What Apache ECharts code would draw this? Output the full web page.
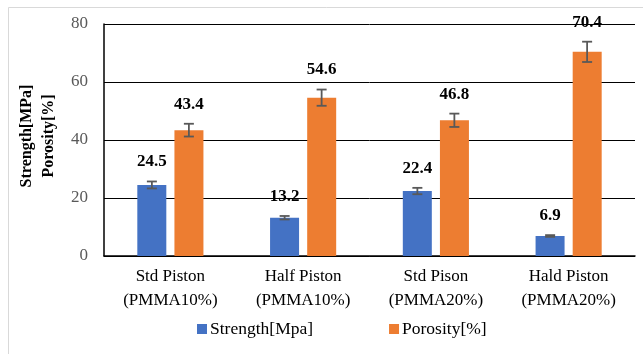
<!DOCTYPE html>
<html>
<head>
<meta charset="utf-8">
<script src="https://cdn.jsdelivr.net/npm/echarts@6/dist/echarts.min.js"></script>
<style>
  html, body { margin: 0; padding: 0; background: #fff; }
  #chart { width: 643px; height: 354px; }
</style>
</head>
<body>
<div id="chart"></div>
<script>
const categories = ['Std Piston\n(PMMA10%)', 'Half Piston\n(PMMA10%)', 'Std Pison\n(PMMA20%)', 'Hald Piston\n(PMMA20%)'];
const strength = [24.5, 13.2, 22.4, 6.9];
const strengthErr = [1.2, 0.6, 1.1, 0.3];
const porosity = [43.4, 54.6, 46.8, 70.4];
const porosityErr = [2.2, 2.8, 2.3, 3.5];
const yTicks = [0, 20, 40, 60, 80];

const FONT = '"Liberation Serif", "DejaVu Serif", serif';
const BAR_W = 29;
const OFFSET = 18.5;

// error bar + value label drawn as a custom series
function errorSeries(name, vals, errs, dx) {
  return {
    type: 'custom',
    name: name + '_err',
    z: 5,
    data: vals.map((v, i) => [i, v, errs[i]]),
    renderItem: (params, api) => {
      const i = api.value(0), v = api.value(1), e = api.value(2);
      const top = api.coord([i, v + e]);
      const bot = api.coord([i, v - e]);
      const x = top[0] + dx;
      const st = { stroke: '#595959', lineWidth: 1.8 };
      return {
        type: 'group',
        children: [
          { type: 'line', shape: { x1: x, y1: top[1], x2: x, y2: bot[1] }, style: st },
          { type: 'line', shape: { x1: x - 5, y1: top[1], x2: x + 5, y2: top[1] }, style: st },
          { type: 'line', shape: { x1: x - 5, y1: bot[1], x2: x + 5, y2: bot[1] }, style: st },
          {
            type: 'text',
            x: x, y: top[1] - 11,
            style: {
              text: String(v),
              fill: '#000',
              font: 'bold 17px ' + FONT,
              align: 'center',
              verticalAlign: 'bottom'
            }
          }
        ]
      };
    }
  };
}

const chart = echarts.init(document.getElementById('chart'));
chart.setOption({
  animation: false,
  backgroundColor: '#fff',
  graphic: [{
    type: 'rect',
    shape: { x: 8.5, y: 7.5, width: 700, height: 400 },
    style: { fill: 'none', stroke: '#d9d9d9', lineWidth: 1 },
    silent: true
  }],
  grid: { left: 104, right: 8, top: 24, bottom: 98 },
  legend: {
    bottom: 11,
    left: 192,
    itemWidth: 10,
    itemHeight: 10,
    itemGap: 76,
    icon: 'rect',
    data: ['Strength[Mpa]', 'Porosity[%]'],
    textStyle: { fontFamily: FONT, fontSize: 17.5, color: '#000', padding: [0, 0, 0, -2] }
  },
  xAxis: {
    type: 'category',
    data: categories,
    axisLine: { lineStyle: { color: '#000', width: 1.5 } },
    axisTick: { show: false },
    axisLabel: {
      fontFamily: FONT, fontSize: 17, color: '#000',
      lineHeight: 24, margin: 9, interval: 0
    }
  },
  yAxis: {
    type: 'value',
    min: yTicks[0],
    max: yTicks[yTicks.length - 1],
    interval: 20,
    name: 'Strength[MPa]\nPorosity[%]',
    nameLocation: 'middle',
    nameRotate: 90,
    nameGap: 41,
    nameTextStyle: { fontFamily: FONT, fontSize: 16, fontWeight: 'bold', color: '#000', lineHeight: 22, padding: [0, 0, 0, 8] },
    axisLine: { show: true, lineStyle: { color: '#000', width: 1.5 } },
    axisTick: { show: false },
    axisLabel: { fontFamily: FONT, fontSize: 17, color: '#595959', margin: 16 },
    splitLine: { lineStyle: { color: '#000', width: 1 } }
  },
  series: [
    {
      name: 'Strength[Mpa]',
      type: 'bar',
      data: strength,
      barWidth: BAR_W,
      barGap: '28%',
      itemStyle: { color: '#4472C4' }
    },
    {
      name: 'Porosity[%]',
      type: 'bar',
      data: porosity,
      barWidth: BAR_W,
      itemStyle: { color: '#ED7D31' }
    },
    errorSeries('Strength[Mpa]', strength, strengthErr, -OFFSET),
    errorSeries('Porosity[%]', porosity, porosityErr, OFFSET)
  ]
});
</script>
</body>
</html>
